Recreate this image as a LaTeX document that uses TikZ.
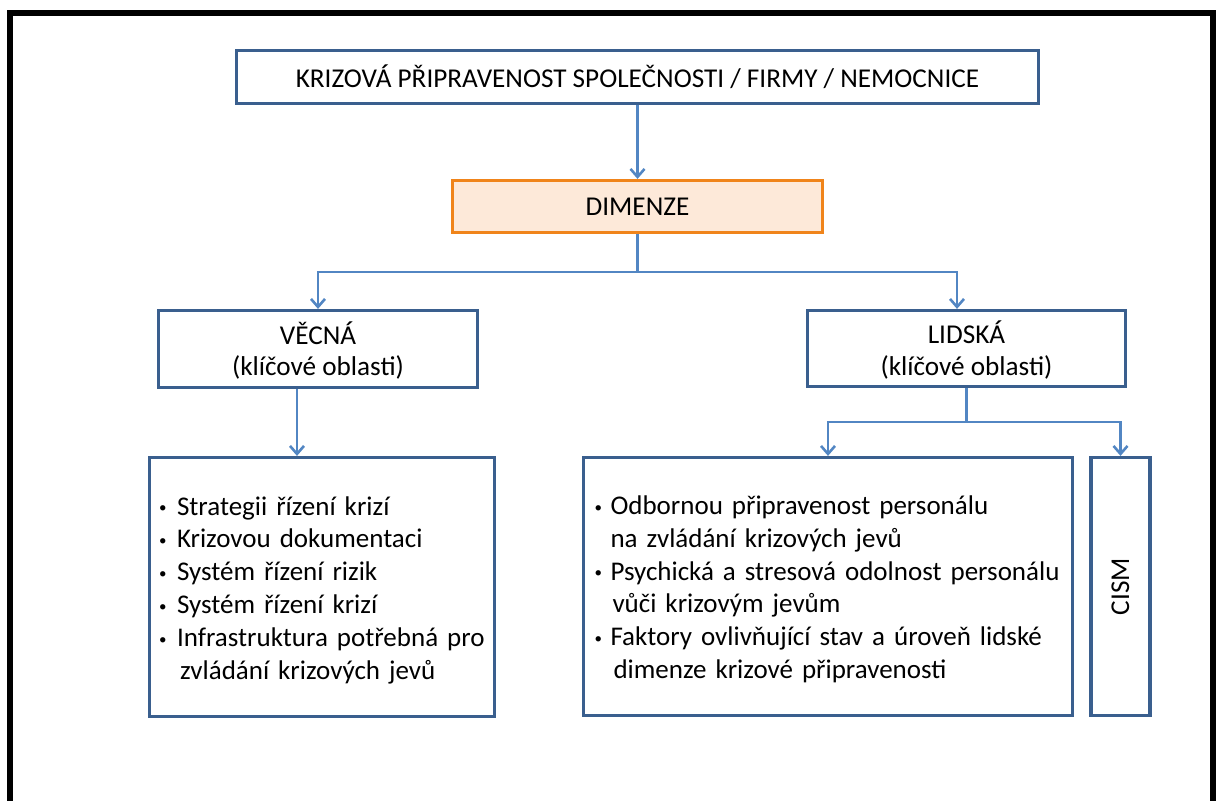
\documentclass[tikz,border=0pt]{standalone}
\usepackage{fontspec}
\setmainfont{Carlito}
\usetikzlibrary{arrows.meta,calc}
\definecolor{boxblue}{HTML}{3A5F8E}
\definecolor{connblue}{HTML}{5286C3}
\definecolor{dimorange}{HTML}{F0841A}
\definecolor{dimfill}{HTML}{FDE9D9}
\newcommand{\bul}{\raisebox{2.2pt}{\fontsize{15}{15}\selectfont\textbullet}}
\tikzset{
  box/.style={draw=boxblue, line width=3.2pt, fill=white, inner sep=0pt, align=center,
    font=\fontsize{27.2}{31.5}\selectfont},
  dimbox/.style={box, draw=dimorange, fill=dimfill},
  listbox/.style={draw=boxblue, line width=3.2pt, fill=white, inner ysep=0pt,
    font=\fontsize{27}{32.8}\selectfont, align=left},
  conn/.style={draw=connblue, line width=2.6pt},
  arr/.style={conn, -{Straight Barb[length=8pt,width=14pt]}},
}
\begin{document}
\begin{tikzpicture}[x=1pt,y=-1pt]
\useasboundingbox (0,0) rectangle (1217,800);
% outer frame (continues below the lower edge)
\draw[line width=6pt] (10,820) -- (10,13) -- (1212.5,13) -- (1212.5,820);

\node[box, minimum width=802pt, minimum height=52.5pt] (top) at (637.5,77)
  {KRIZOVÁ PŘIPRAVENOST SPOLEČNOSTI / FIRMY / NEMOCNICE};
\node[dimbox, minimum width=370pt, minimum height=52pt] (dim) at (637.5,206.5) {DIMENZE};
\node[box, minimum width=319pt, minimum height=77pt] (vec) at (318,349)
  {\rule{0pt}{26pt}VĚCNÁ\\(klíčové oblasti)};
\node[box, minimum width=318pt, minimum height=76pt] (lid) at (966.5,348.5)
  {\rule{0pt}{26pt}LIDSKÁ\\(klíčové oblasti)};

\node[listbox, minimum width=345pt, minimum height=259pt, text width=330pt, inner xsep=7.5pt]
  (lb) at (322,587)
  {\begin{tabular}{@{}p{20pt}@{}l@{}}
   \noalign{\vspace{7pt}}
   \hspace{2pt}\bul & Strategii řízení krizí\\
   \hspace{2pt}\bul & Krizovou dokumentaci\\
   \hspace{2pt}\bul & Systém řízení rizik\\
   \hspace{2pt}\bul & Systém řízení krizí\\
   \hspace{2pt}\bul & Infrastruktura potřebná pro\\
               & \hspace{3pt}zvládání krizových jevů
   \end{tabular}};
\node[listbox, minimum width=489pt, minimum height=258pt, text width=469pt, inner xsep=10pt]
  (mb) at (828,586.5)
  {\begin{tabular}{@{}p{17pt}@{}l@{}}
   \noalign{\vspace{7pt}}
   \hspace{1pt}\bul & Odbornou připravenost personálu\\
               & na zvládání krizových jevů\\
   \hspace{1pt}\bul & Psychická a stresová odolnost personálu\\
               & \hspace{2pt}vůči krizovým jevům\\
   \hspace{1pt}\bul & Faktory ovlivňující stav a úroveň lidské\\
               & \hspace{3pt}dimenze krizové připravenosti
   \end{tabular}};
\node[box, minimum width=59pt, minimum height=258pt] (cism) at (1120.5,586.5)
  {\rotatebox{90}{CISM}};

% connectors
\coordinate (b1) at (637.5,272);
\coordinate (b2) at (966.5,422);
\draw[arr] (top.south) -- (dim.north);
\draw[conn] (dim.south) -- (b1);
\draw[arr] (b1) -| (vec.north);
\draw[arr] (b1) -| ([xshift=-9.5pt]lid.north);
\draw[arr] ([xshift=-21pt]vec.south) -- ([xshift=-21pt]vec.south |- lb.north);
\draw[conn] (lid.south) -- (b2);
\draw[arr] (b2) -| (mb.north);
\draw[arr] (b2) -| (cism.north);
\end{tikzpicture}
\end{document}
